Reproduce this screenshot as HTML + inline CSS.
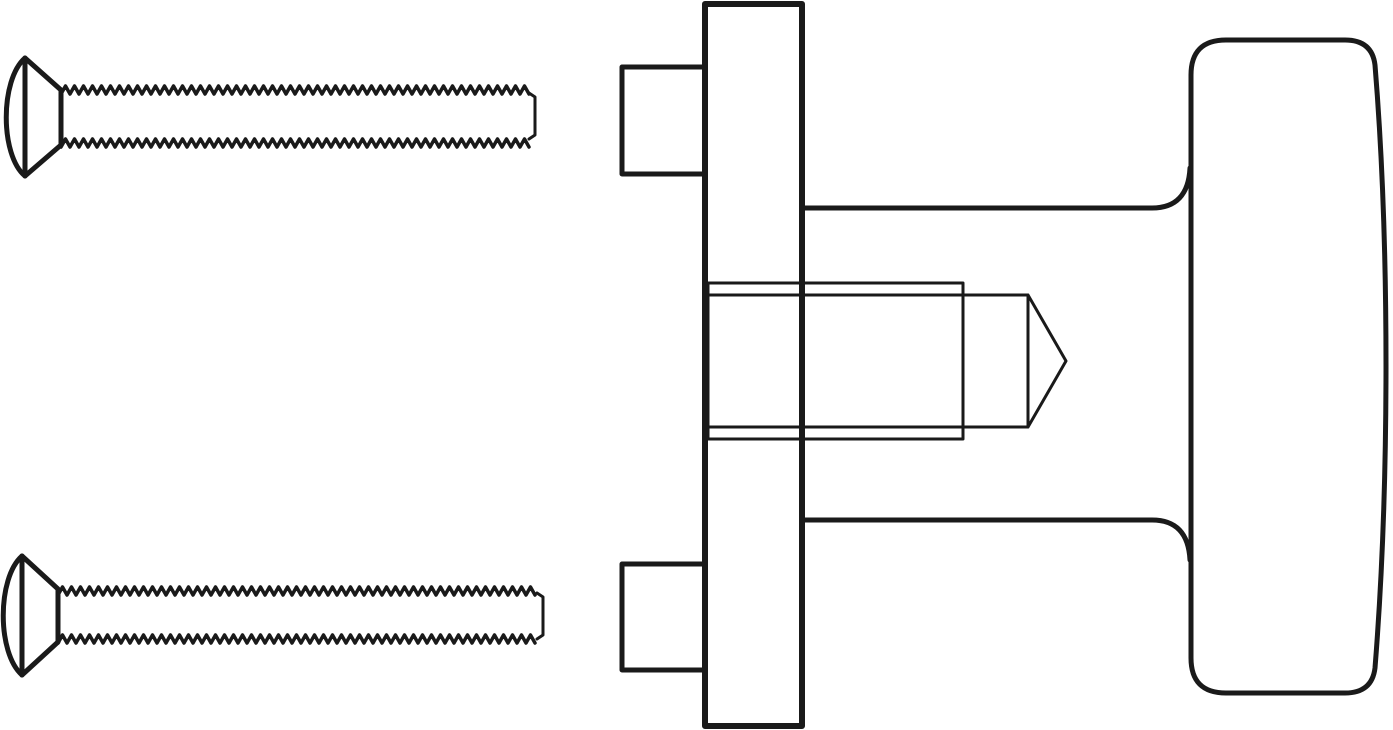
<!DOCTYPE html>
<html><head><meta charset="utf-8"><style>html,body{margin:0;padding:0;background:#fff}svg{display:block}</style></head>
<body>
<svg id="s" width="1393" height="730" viewBox="0 0 1393 730" xmlns="http://www.w3.org/2000/svg" fill="none" stroke="#1a1a1a" stroke-linejoin="round" stroke-linecap="round">
<!-- screw 1 -->
<path d="M25 58 C 0 80, 0 155, 25 176" stroke-width="5"/>
<path d="M25 58 L25 176 M25 58 L61 90 L61 145 L25 176" stroke-width="5"/>
<path d="M529 93 L535 97 L535 135 L529 139" stroke-width="3"/>
<!-- screw 2 -->
<path d="M22 556 C -3 578, -3 653, 22 675" stroke-width="5"/>
<path d="M22 556 L22 675 M22 556 L58 589 L58 642 L22 675" stroke-width="5"/>
<path d="M537 593 L543 597 L543 635 L537 639" stroke-width="3"/>
<g id="threads" stroke-width="3.5"></g>
<!-- small blocks -->
<rect x="622" y="67" width="83" height="107" stroke-width="5"/>
<rect x="622" y="564" width="83" height="106" stroke-width="5"/>
<!-- stem -->
<path d="M802 208 L1152 208 Q1188 208 1190 168" stroke-width="5"/>
<path d="M802 520 L1152 520 Q1188 520 1190 560" stroke-width="5"/>
<!-- knob -->
<path d="M1191 75 Q1191 40 1226 40 L1345 40 Q1372 40 1375 65 Q1386 200 1386 365 Q1386 530 1375 668 Q1372 693 1345 693 L1226 693 Q1191 693 1191 658 Z" stroke-width="5"/>
<!-- internal bolt -->
<path d="M708 283 L963 283 L963 439 L708 439 M708 295 L1028 295 L1028 427 L708 427 M1028 295 L1066 361 L1028 427" stroke-width="3"/>
<!-- plate -->
<rect x="705" y="4" width="97" height="722" stroke-width="6"/>
<path d="M708 283 L708 439" stroke-width="3"/>
</svg>
<script>
function zig(x0,x1,y,amp,p){let d="M"+x0+" "+y;let up=true;for(let x=x0+p/2;x<=x1;x+=p/2){d+=" L"+x.toFixed(1)+" "+(up?y-amp:y);up=!up;}return d;}
const g=document.getElementById('threads');
const lines=[[61,529,94,8],[61,529,147,8],[58,537,595,8],[58,537,643,8]];
let h="";for(const l of lines){h+='<path d="'+zig(l[0],l[1],l[2],l[3],9)+'"/>';}
g.innerHTML=h;
</script>
</body></html>
